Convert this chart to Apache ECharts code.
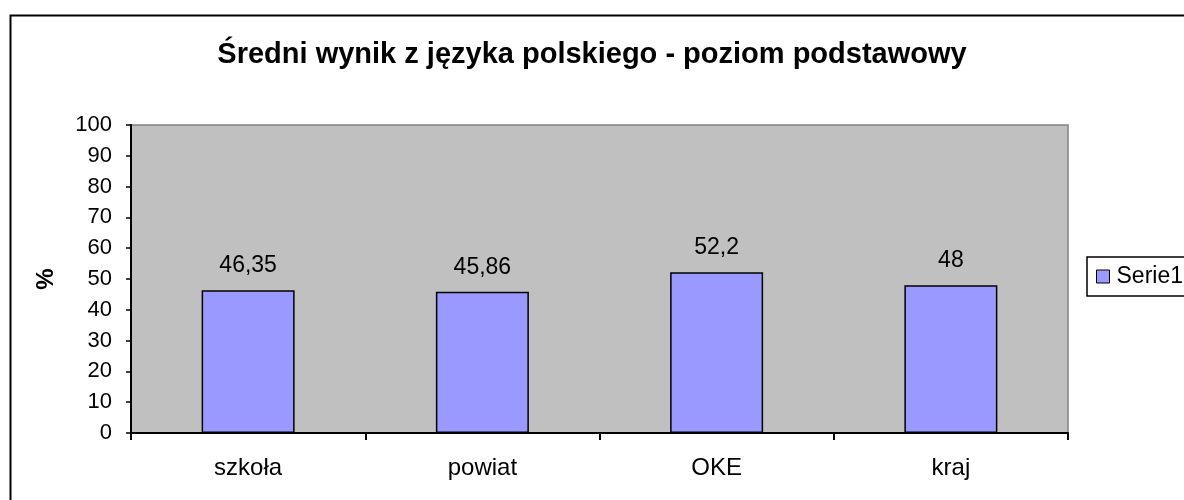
<!DOCTYPE html>
<html>
<head>
<meta charset="utf-8">
<script src="https://cdn.jsdelivr.net/npm/echarts@6/dist/echarts.min.js"></script>
<style>html,body{margin:0;padding:0;background:#fff;}#c{width:1184px;height:500px;}</style>
</head>
<body>
<div id="c"></div>
<script>
const titleText = 'Średni wynik z języka polskiego - poziom podstawowy';
const categories = ['szkoła', 'powiat', 'OKE', 'kraj'];
const seriesName = 'Serie1';
const values = [46.35, 45.86, 52.2, 48];
const yTicks = [0, 10, 20, 30, 40, 50, 60, 70, 80, 90, 100];
const yName = '%';

const FONT = '"Liberation Sans", Arial, sans-serif';
const chart = echarts.init(document.getElementById('c'), null, {renderer: 'canvas'});
chart.setOption({
  animation: false,
  backgroundColor: '#fff',
  textStyle: {fontFamily: FONT, color: '#000'},
  title: {
    text: titleText, left: 'center', top: 35,
    textStyle: {fontFamily: FONT, fontSize: 29, fontWeight: 'bold', color: '#000'}
  },
  graphic: [{
    type: 'rect', left: 8, top: 13, z: 100,
    shape: {width: 1200, height: 600},
    style: {fill: 'none', stroke: '#000', lineWidth: 2}
  }],
  legend: {
    left: 1087, top: 257, padding: [8, 12, 8, 9],
    borderColor: '#000', borderWidth: 1.5, backgroundColor: '#fff',
    itemWidth: 13, itemHeight: 13, icon: 'rect', itemGap: 10,
    itemStyle: {borderColor: '#000', borderWidth: 1},
    textStyle: {fontFamily: FONT, fontSize: 23, color: '#000', padding: [0, 0, 0, 2]},
    data: [seriesName]
  },
  grid: {
    left: 131, top: 125, right: 116, bottom: 67,
    show: true, backgroundColor: '#C0C0C0', borderColor: '#808080', borderWidth: 1.5
  },
  xAxis: {
    type: 'category', data: categories, boundaryGap: true,
    axisLine: {lineStyle: {color: '#000', width: 2}},
    axisTick: {show: true, length: 7, lineStyle: {color: '#000', width: 2}},
    axisLabel: {fontFamily: FONT, fontSize: 24, color: '#000', margin: 23}
  },
  yAxis: {
    type: 'value', min: yTicks[0], max: yTicks[yTicks.length - 1], interval: 10,
    name: yName, nameLocation: 'middle', nameGap: 73, nameRotate: 90,
    nameTextStyle: {fontFamily: FONT, fontSize: 24, fontWeight: 'bold', color: '#000'},
    axisLine: {show: true, lineStyle: {color: '#000', width: 2}},
    axisTick: {show: true, length: 5, lineStyle: {color: '#000', width: 1.5}},
    splitLine: {show: false},
    axisLabel: {fontFamily: FONT, fontSize: 22, color: '#000', margin: 19}
  },
  series: [{
    name: seriesName, type: 'bar', data: values, barWidth: 93,
    itemStyle: {color: '#9999FF', borderColor: '#000', borderWidth: 1.5},
    label: {
      show: true, position: 'top', distance: 13,
      fontFamily: FONT, fontSize: 23, color: '#000',
      formatter: p => String(p.value).replace('.', ',')
    }
  }]
});
</script>
</body>
</html>
